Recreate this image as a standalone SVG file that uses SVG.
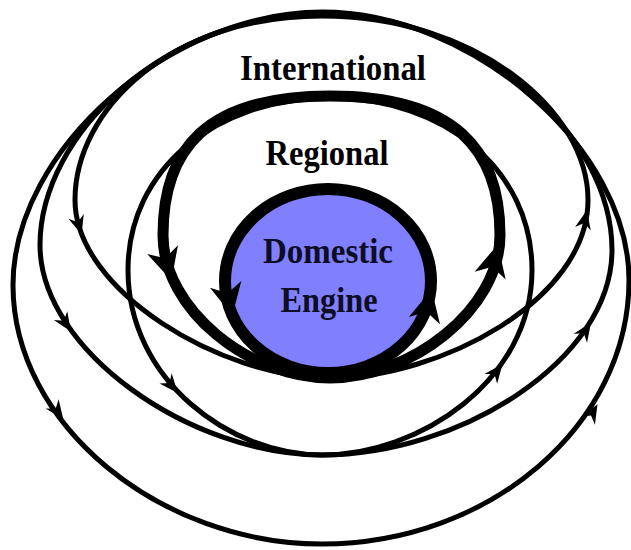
<svg xmlns="http://www.w3.org/2000/svg" xmlns:xlink="http://www.w3.org/1999/xlink" width="631" height="550" viewBox="0 0 631 550">
  <style>
    .loop { fill: none; stroke: #000; stroke-width: 5; stroke-linejoin: round; }
    .thick { stroke-width: 11; }
    .head { fill: #000; stroke: none; }
    .label { font-family: "Liberation Serif", "Times New Roman", serif; font-weight: bold; font-size: 35px; text-anchor: middle; fill: #000; }
    .inner { fill: #0d0d26; }
  </style>
  <defs>
    <path id="ah" d="M9,0 L-10,-8 L-4,0 L-10,8 Z"/>
    <path id="ahB" d="M16,0 L-16,-16 L-7,0 L-16,16 Z"/>
  </defs>
  <rect width="631" height="550" fill="#fff"/>

  <g id="connectors">
    <!-- International loops -->
    <path class="loop" d="M322,12 C170,12 13,150 13,285 C13,425 160,544 322,544 C490,544 629,425 629,280 C629,150 474,12 322,12 Z"/>
    <path class="loop" d="M322,14 C165,14 40,135 40,245 C40,350 190,455 322,455 C460,455 612,360 612,250 C612,135 480,14 322,14 Z"/>
    <path class="loop" d="M322,16 C170,16 75,110 75,200 C75,290 220,378 330,378 C440,378 588,300 588,200 C588,110 475,16 322,16 Z"/>
    <!-- Regional loops -->
    <path class="loop" d="M330,98 C215,98 128,170 128,270 C128,380 230,455 322,455 C420,455 532,380 532,270 C532,170 445,98 330,98 Z"/>
    <path class="loop thick" d="M330,96 C205,96 163,150 163,235 C163,310 250,378 330,378 C410,378 500,310 500,235 C500,150 455,96 330,96 Z"/>

    <!-- arrowheads -->
    <use xlink:href="#ah" class="head" transform="translate(58,412) rotate(54)"/>
    <use xlink:href="#ah" class="head" transform="translate(593,412) rotate(-60)"/>
    <use xlink:href="#ah" class="head" transform="translate(66,324) rotate(57)"/>
    <use xlink:href="#ah" class="head" transform="translate(586,330) rotate(-56)"/>
    <use xlink:href="#ah" class="head" transform="translate(79,226) rotate(73)"/>
    <use xlink:href="#ah" class="head" transform="translate(585,219) rotate(-78)"/>
    <use xlink:href="#ah" class="head" transform="translate(172,386) rotate(50)"/>
    <use xlink:href="#ah" class="head" transform="translate(497,371) rotate(-52)"/>
    <use xlink:href="#ahB" class="head" transform="translate(167,265) rotate(74)"/>
    <use xlink:href="#ahB" class="head" transform="translate(494,260) rotate(-76)"/>
  </g>

  <g id="international">
    <text class="label" x="333" y="80" textLength="186" lengthAdjust="spacingAndGlyphs">International</text>
  </g>

  <g id="regional">
    <text class="label" x="327" y="165" textLength="123" lengthAdjust="spacingAndGlyphs">Regional</text>
  </g>

  <g id="domestic">
    <ellipse cx="328" cy="281" rx="103" ry="92" fill="#8080ff" stroke="#000" stroke-width="12"/>
    <use xlink:href="#ahB" class="head" transform="translate(229,300) rotate(78)"/>
    <use xlink:href="#ahB" class="head" transform="translate(428,305) rotate(-77)"/>
    <text class="label inner" x="328" y="263" font-size="34" textLength="130" lengthAdjust="spacingAndGlyphs">Domestic</text>
    <text class="label inner" x="329" y="312" font-size="34" textLength="97" lengthAdjust="spacingAndGlyphs">Engine</text>
  </g>
</svg>
